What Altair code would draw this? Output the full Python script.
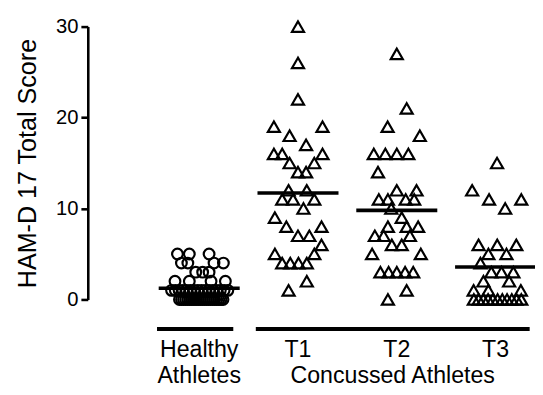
import altair as alt
import pandas as pd

FONT = "Liberation Sans, Arial, Helvetica, sans-serif"

# ---- data ----
groups = ["Healthy Athletes", "T1", "T2", "T3"]

healthy_scores = [5, 5, 5, 4, 4, 4, 4, 3, 3, 3, 2, 2, 2, 2,
                  1, 1, 1, 1, 1, 1, 1, 1, 1, 1, 1, 1, 1, 1, 1, 1,
                  0, 0, 0, 0, 0, 0, 0, 0, 0, 0, 0, 0, 0, 0, 0, 0, 0, 0, 0, 0, 0, 0]
healthy_jitter = [-0.22, -0.10, 0.10, -0.18, -0.115, 0.15, 0.245, -0.035, 0.035, 0.10,
                  -0.245, -0.10, 0.12, 0.265,
                  -0.28, -0.242, -0.204, -0.166, -0.128, -0.09, -0.052, -0.014,
                  0.024, 0.062, 0.10, 0.138, 0.176, 0.214, 0.252, 0.29,
                  -0.20, -0.179, -0.158, -0.137, -0.116, -0.095, -0.074, -0.053, -0.032, -0.011,
                  0.010, 0.031, 0.052, 0.073, 0.094, 0.115, 0.136, 0.157, 0.178, 0.199, 0.220, 0.241]

t1_scores = [30, 26, 22, 19, 19, 18, 17, 16, 16, 16, 15, 15, 14, 14, 12, 12, 11, 11, 11,
             10, 9, 8, 8, 7, 7, 6, 5, 5, 4, 4, 4, 4, 2, 1]
t1_jitter = [0, 0, 0, -0.244, 0.248, -0.085, 0.082, -0.244, -0.16, 0.248, -0.085, 0.165,
             0, 0.082, -0.095, 0.089, -0.16, -0.05, 0.165, 0.055, -0.234, -0.118, 0.238,
             0, 0.115, 0.238, -0.234, 0.165, -0.16, -0.078, 0.005, 0.089, 0.089, -0.095]

t2_scores = [27, 21, 19, 18, 16, 16, 16, 16, 14, 12, 12, 11, 11, 11, 11, 10, 9, 8, 8, 8,
             7, 7, 7, 6, 6, 5, 5, 3, 3, 3, 3, 3, 1, 0]
t2_jitter = [0, 0.1, -0.093, 0.233, -0.233, -0.116, 0, 0.117, -0.19, 0, 0.2,
             -0.182, -0.09, 0.09, 0.176, -0.056, 0.05, -0.09, 0.1, 0.216,
             -0.222, -0.133, 0.133, -0.05, 0.05, -0.25, 0.243,
             -0.166, -0.083, 0, 0.084, 0.166, 0.1, -0.09]

t3_scores = [15, 12, 11, 11, 10, 6, 6, 6, 5, 5, 4, 3, 3, 3, 2, 2, 1, 1, 1,
             0, 0, 0, 0, 0, 0, 0, 0, 0, 0, 0]
t3_jitter = [0.015, -0.237, -0.066, 0.26, 0.097, -0.172, 0.017, 0.21, -0.073, 0.11,
             -0.153, -0.043, 0.06, 0.18, -0.123, 0.137, -0.222, -0.073, 0.256,
             -0.22, -0.172, -0.124, -0.076, -0.028, 0.02, 0.068, 0.116, 0.164, 0.212, 0.26]

tick_values = [0, 10, 20, 30]
row1_labels = ["Healthy", "T1", "T2", "T3"]
row2_labels = ["Athletes", "Concussed Athletes"]
bracket_members = [[0], [1, 2, 3]]

# ---- tables ----
rows = []
for gi, (scores, jit) in enumerate([(healthy_scores, healthy_jitter), (t1_scores, t1_jitter),
                                     (t2_scores, t2_jitter), (t3_scores, t3_jitter)]):
    for s, j in zip(scores, jit):
        rows.append({"gi": gi, "score": float(s), "xpos": gi + j})
df = pd.DataFrame(rows)
df_h = df[df.gi == 0].reset_index(drop=True)
df_c = df[df.gi > 0].reset_index(drop=True)

means = df.groupby("gi", as_index=False)["score"].mean()
HALF = 0.41
means["lo"] = means["gi"] - HALF
means["hi"] = means["gi"] + HALF

brackets = pd.DataFrame({
    "start": [min(m) - 0.427 for m in bracket_members],
    "end": [max(m) + 0.345 for m in bracket_members],
})
brackets["mid"] = (brackets["start"] + brackets["end"]) / 2

lab1 = pd.DataFrame({"label": row1_labels, "pos": [0.0, 1.0, 2.0, 3.0]})
lab2 = pd.DataFrame({"label": row2_labels, "pos": [0.0, float(brackets["mid"].iloc[1])]})

xscale = alt.Scale(domain=[-1.1277, 3.399], nice=False, zero=False)
yscale = alt.Scale(domain=[0, 30], nice=False, zero=False)

yaxis = alt.Axis(
    values=tick_values, grid=False, tickSize=7, tickWidth=2.6, domainWidth=2.6,
    domainColor="black", tickColor="black", labelColor="black", labelFontSize=20.5,
    labelFont=FONT, labelPadding=3, title="HAM-D 17 Total Score", titleFontSize=25.5,
    titleFont=FONT, titleFontWeight="normal", titleColor="black", titlePadding=15)

healthy = alt.Chart(df_h).mark_point(
    shape="circle", filled=False, size=118, strokeWidth=2.2, color="black", opacity=1
).encode(x=alt.X("xpos:Q", scale=xscale, axis=None),
         y=alt.Y("score:Q", scale=yscale, axis=yaxis))

concussed = alt.Chart(df_c).mark_point(
    shape="triangle-up", filled=False, size=150, strokeWidth=2.2, color="black", opacity=1
).encode(x=alt.X("xpos:Q", scale=xscale, axis=None),
         y=alt.Y("score:Q", scale=yscale, axis=yaxis))

mean_rules = alt.Chart(means).mark_rule(color="black", strokeWidth=3.6).encode(
    x=alt.X("lo:Q", scale=xscale, axis=None), x2="hi:Q",
    y=alt.Y("score:Q", scale=yscale, axis=yaxis))

bracket_rules = alt.Chart(brackets).mark_rule(color="black", strokeWidth=4.2).encode(
    x=alt.X("start:Q", scale=xscale, axis=None), x2="end:Q", y=alt.value(307))

labels1 = alt.Chart(lab1).mark_text(
    font=FONT, fontSize=23.5, color="black", baseline="alphabetic", align="center"
).encode(x=alt.X("pos:Q", scale=xscale, axis=None), y=alt.value(335), text="label:N")

labels2 = alt.Chart(lab2).mark_text(
    font=FONT, fontSize=23.5, color="black", baseline="alphabetic", align="center"
).encode(x=alt.X("pos:Q", scale=xscale, axis=None), y=alt.value(362), text="label:N")

chart = alt.layer(healthy, concussed, mean_rules, bracket_rules, labels1, labels2).properties(
    width=454, height=277,
    autosize=alt.AutoSizeParams(type="none"),
    padding={"left": 81, "top": 16, "right": 0, "bottom": 86},
).configure_view(stroke=None)

chart.save("out.html", embed_options={"renderer": "svg", "actions": False})
